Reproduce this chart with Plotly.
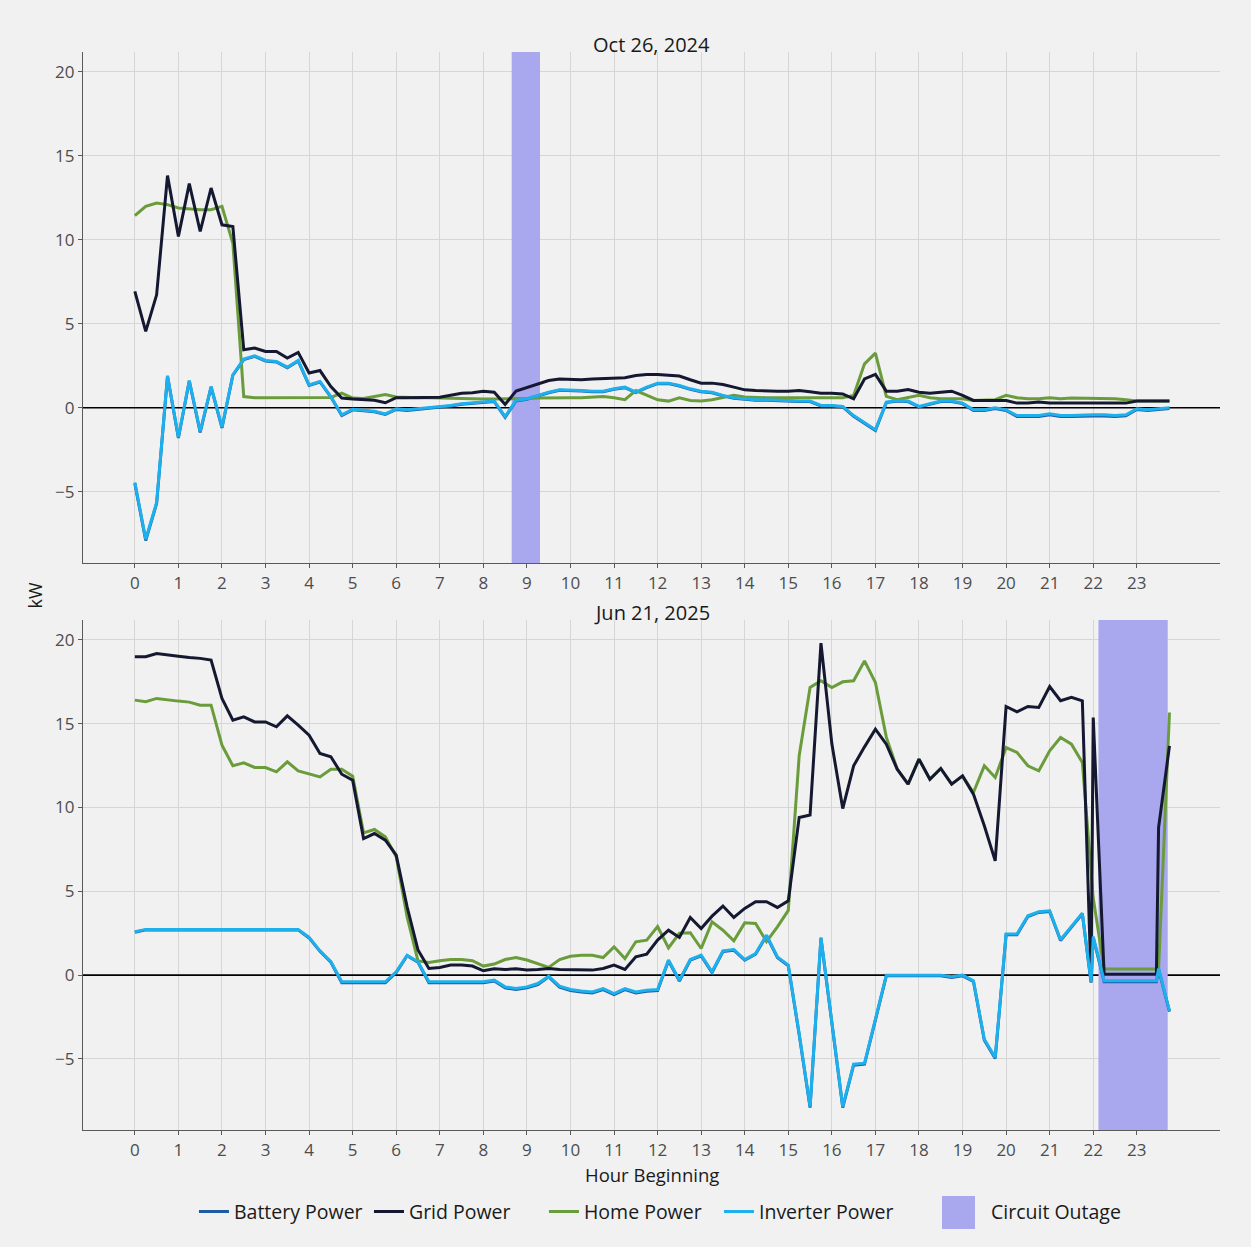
import plotly.graph_objects as go

# ---- sampling times (hour of day, 15-minute readings) ----
oct_hours = [q / 4 for q in range(96)]
# extra readings logged just before / after the evening outage
jun_hours = [q / 4 for q in range(88)] + [21.95] + [q / 4 for q in range(88, 94)] + [23.45, 23.5, 23.75]

hour_ticks = list(range(24))
kw_ticks = [-5, 0, 5, 10, 15, 20]

# ---- Oct 26, 2024 ----
oct_grid = [
    6.93, 4.55, 6.73, 13.83,
    10.21, 13.35, 10.5, 13.09,
    10.9, 10.8, 3.46, 3.56,
    3.36, 3.36, 2.96, 3.3,
    2.07, 2.22, 1.27, 0.58,
    0.52, 0.5, 0.45, 0.3,
    0.6, 0.6, 0.6, 0.6,
    0.63, 0.75, 0.87, 0.9,
    0.98, 0.93, 0.2, 1.0,
    1.2, 1.43, 1.63, 1.71,
    1.67, 1.67, 1.71, 1.75,
    1.79, 1.79, 1.93, 1.99,
    1.99, 1.93, 1.89, 1.67,
    1.47, 1.47, 1.39, 1.23,
    1.07, 1.03, 0.99, 0.99,
    0.99, 1.03, 0.95, 0.87,
    0.87, 0.83, 0.54, 1.72,
    1.99, 0.99, 0.99, 1.09,
    0.93, 0.87, 0.93, 0.99,
    0.74, 0.44, 0.44, 0.44,
    0.44, 0.28, 0.28, 0.34,
    0.28, 0.28, 0.28, 0.3,
    0.28, 0.28, 0.28, 0.28,
    0.4, 0.4, 0.4, 0.4,
]
oct_home = [
    11.44, 12.0, 12.2, 12.1,
    11.9, 11.85, 11.8, 11.8,
    12.0, 9.8, 0.67, 0.6,
    0.6, 0.58, 0.58, 0.58,
    0.6, 0.6, 0.62, 0.87,
    0.58, 0.55, 0.65, 0.79,
    0.64, 0.6, 0.6, 0.6,
    0.58, 0.54, 0.54, 0.52,
    0.52, 0.52, 0.52, 0.52,
    0.56, 0.58, 0.6, 0.6,
    0.6, 0.6, 0.64, 0.68,
    0.6, 0.48, 1.03, 0.74,
    0.48, 0.4, 0.6, 0.44,
    0.4, 0.48, 0.6, 0.74,
    0.64, 0.6, 0.6, 0.6,
    0.6, 0.64, 0.62, 0.6,
    0.6, 0.6, 0.74, 2.62,
    3.26, 0.68, 0.48, 0.6,
    0.74, 0.6, 0.54, 0.54,
    0.54, 0.44, 0.44, 0.48,
    0.74, 0.6, 0.54, 0.54,
    0.6, 0.54, 0.58, 0.58,
    0.58, 0.58, 0.54, 0.48,
    0.4, 0.4, 0.4, 0.4,
]
oct_inverter = [
    -4.45, -7.83, -5.64, 1.91,
    -1.75, 1.63, -1.41, 1.27,
    -1.15, 1.97, 2.9, 3.1,
    2.82, 2.76, 2.42, 2.82,
    1.37, 1.57, 0.67, -0.42,
    -0.08, -0.15, -0.2, -0.36,
    -0.06, -0.12, -0.06, 0.0,
    0.08, 0.14, 0.24, 0.28,
    0.34, 0.4, -0.52, 0.44,
    0.54, 0.74, 0.93, 1.07,
    1.07, 1.03, 0.99, 0.99,
    1.13, 1.23, 0.93, 1.23,
    1.47, 1.47, 1.33, 1.13,
    0.99, 0.93, 0.74, 0.6,
    0.54, 0.48, 0.48, 0.44,
    0.44, 0.4, 0.4, 0.14,
    0.14, 0.08, -0.46, -0.91,
    -1.31, 0.34, 0.44, 0.4,
    0.08, 0.24, 0.4, 0.4,
    0.28, -0.12, -0.12, 0.0,
    -0.12, -0.46, -0.46, -0.46,
    -0.36, -0.46, -0.46, -0.42,
    -0.42, -0.42, -0.46, -0.42,
    -0.06, -0.12, -0.06, 0.0,
]
oct_battery = [
    -4.5, -7.9, -5.7, 1.88,
    -1.8, 1.6, -1.46, 1.24,
    -1.2, 1.94, 2.87, 3.07,
    2.79, 2.73, 2.39, 2.79,
    1.34, 1.54, 0.64, -0.46,
    -0.12, -0.19, -0.24, -0.4,
    -0.1, -0.16, -0.1, -0.04,
    0.05, 0.11, 0.21, 0.25,
    0.31, 0.37, -0.56, 0.41,
    0.51, 0.71, 0.9, 1.04,
    1.04, 1.0, 0.96, 0.96,
    1.1, 1.2, 0.9, 1.2,
    1.44, 1.44, 1.3, 1.1,
    0.96, 0.9, 0.71, 0.57,
    0.51, 0.45, 0.45, 0.41,
    0.41, 0.37, 0.37, 0.11,
    0.11, 0.05, -0.5, -0.95,
    -1.35, 0.31, 0.41, 0.37,
    0.05, 0.21, 0.37, 0.37,
    0.25, -0.16, -0.16, -0.04,
    -0.16, -0.52, -0.52, -0.52,
    -0.42, -0.52, -0.52, -0.48,
    -0.48, -0.48, -0.52, -0.48,
    -0.1, -0.16, -0.1, -0.04,
]

# ---- Jun 21, 2025 ----
jun_grid = [
    18.99, 19.0, 19.19, 19.09,
    19.03, 18.95, 18.9, 18.8,
    16.51, 15.21, 15.41, 15.11,
    15.11, 14.82, 15.47, 14.92,
    14.32, 13.23, 13.03, 11.99,
    11.63, 8.15, 8.45, 8.05,
    7.16, 4.08, 1.5, 0.4,
    0.46, 0.6, 0.6, 0.54,
    0.26, 0.38, 0.34, 0.38,
    0.3, 0.34, 0.4, 0.34,
    0.34, 0.3, 0.3, 0.4,
    0.6, 0.34, 1.09, 1.25,
    2.09, 2.68, 2.25, 3.44,
    2.78, 3.52, 4.12, 3.44,
    3.98, 4.38, 4.38, 4.04,
    4.43, 9.41, 9.55, 19.81,
    13.8, 9.94, 12.49, 13.62,
    14.68, 13.78, 12.29, 11.4,
    12.89, 11.69, 12.33, 11.4,
    11.89, 10.8, 8.91, 6.82,
    16.03, 15.71, 16.03, 15.97,
    17.22, 16.37, 16.57, 16.37, -0.3,
    15.37, 0.05, 0.05, 0.05,
    0.05, 0.05, 0.05, 8.8, 13.68,
]
jun_home = [
    16.41, 16.31, 16.51, 16.41,
    16.35, 16.29, 16.11, 16.11,
    13.72, 12.49, 12.67, 12.39,
    12.39, 12.13, 12.73, 12.19,
    11.99, 11.83, 12.29, 12.29,
    11.87, 8.49, 8.69, 8.25,
    7.06, 3.48, 0.85, 0.75,
    0.86, 0.93, 0.93, 0.86,
    0.54, 0.66, 0.93, 1.05,
    0.9, 0.66, 0.46, 0.93,
    1.13, 1.19, 1.19, 1.05,
    1.69, 0.99, 1.99, 2.09,
    2.9, 1.62, 2.5, 2.53,
    1.59, 3.18, 2.68, 2.05,
    3.12, 3.08, 2.0, 2.88,
    3.86, 13.09, 17.16, 17.56,
    17.16, 17.5, 17.56, 18.75,
    17.46, 14.2, 12.29, 11.4,
    12.89, 11.69, 12.33, 11.4,
    11.89, 10.9, 12.49, 11.79,
    13.58, 13.29, 12.49, 12.19,
    13.38, 14.18, 13.78, 12.69, 6.3,
    4.6, 0.36, 0.36, 0.36,
    0.36, 0.36, 0.36, 0.36, 15.67,
]
jun_inverter = [
    2.59, 2.73, 2.73, 2.73,
    2.73, 2.73, 2.73, 2.73,
    2.73, 2.73, 2.73, 2.73,
    2.73, 2.73, 2.73, 2.73,
    2.25, 1.45, 0.8, -0.4,
    -0.4, -0.4, -0.4, -0.4,
    0.2, 1.19, 0.8, -0.4,
    -0.4, -0.4, -0.4, -0.4,
    -0.4, -0.3, -0.7, -0.8,
    -0.7, -0.5, -0.06, -0.66,
    -0.86, -0.94, -1.0, -0.8,
    -1.1, -0.8, -1.0, -0.9,
    -0.86, 0.9, -0.3, 0.93,
    1.19, 0.2, 1.45, 1.53,
    0.93, 1.29, 2.39, 1.09,
    0.6, -3.5, -7.84, 2.25,
    -2.82, -7.84, -5.31, -5.25,
    -2.63, 0.0, 0.0, 0.0,
    0.0, 0.0, 0.0, -0.1,
    0.0, -0.34, -3.82, -4.91,
    2.45, 2.45, 3.54, 3.78,
    3.84, 2.11, 2.94, 3.7, -0.4,
    2.3, -0.34, -0.34, -0.34,
    -0.34, -0.34, -0.34, 0.4, -2.13,
]
jun_battery = [
    2.56, 2.7, 2.7, 2.7,
    2.7, 2.7, 2.7, 2.7,
    2.7, 2.7, 2.7, 2.7,
    2.7, 2.7, 2.7, 2.7,
    2.22, 1.42, 0.77, -0.45,
    -0.45, -0.45, -0.45, -0.45,
    0.16, 1.16, 0.77, -0.45,
    -0.45, -0.45, -0.45, -0.45,
    -0.45, -0.35, -0.76, -0.86,
    -0.76, -0.56, -0.1, -0.72,
    -0.92, -1.0, -1.06, -0.86,
    -1.16, -0.86, -1.06, -0.96,
    -0.92, 0.86, -0.35, 0.89,
    1.15, 0.16, 1.41, 1.49,
    0.89, 1.25, 2.35, 1.05,
    0.56, -3.55, -7.9, 2.2,
    -2.88, -7.9, -5.37, -5.31,
    -2.68, -0.04, -0.04, -0.04,
    -0.04, -0.04, -0.04, -0.14,
    -0.04, -0.38, -3.88, -4.97,
    2.41, 2.41, 3.5, 3.74,
    3.8, 2.07, 2.9, 3.66, -0.45,
    2.25, -0.4, -0.4, -0.4,
    -0.4, -0.4, -0.4, 0.36, -2.18,
]

# circuit outage windows (start hour, end hour)
oct_outage = [8.65, 9.3]
jun_outage = [22.12, 23.71]

# ---- styling ----
BG = "#F1F1F1"
GRID = "#D6D6D6"
AXIS = "#5A5A5A"
OUTAGE = "#A9A7EE"
FONT = "Open Sans"
LINE_W = 3
series_style = {
    "Battery Power": ("#1F5AA6", 1),
    "Home Power": ("#6A9C3C", 3),
    "Grid Power": ("#141830", 2),
    "Inverter Power": ("#1DB0EC", 4),
}

xrange = [-1.19, 24.91]
yrange = [-9.24, 21.19]

panels = [
    ("x", "y", oct_hours, oct_outage,
     {"Battery Power": oct_battery, "Home Power": oct_home,
      "Grid Power": oct_grid, "Inverter Power": oct_inverter}),
    ("x2", "y2", jun_hours, jun_outage,
     {"Battery Power": jun_battery, "Home Power": jun_home,
      "Grid Power": jun_grid, "Inverter Power": jun_inverter}),
]

fig = go.Figure()
for i, (xa, ya, hours, outage, series) in enumerate(panels):
    # zero reference line across the panel
    fig.add_trace(go.Scatter(
        x=xrange, y=[0, 0], mode="lines", line=dict(color="#000000", width=1.6),
        xaxis=xa, yaxis=ya, showlegend=False, hoverinfo="skip",
    ))
    # circuit outage band spanning the full panel height
    fig.add_trace(go.Scatter(
        x=[outage[0], outage[1], outage[1], outage[0], outage[0]],
        y=[yrange[0], yrange[0], yrange[1], yrange[1], yrange[0]],
        mode="lines", fill="toself", fillcolor=OUTAGE,
        line=dict(color=OUTAGE, width=0),
        xaxis=xa, yaxis=ya, showlegend=False, hoverinfo="skip",
    ))
    for name, values in series.items():
        color, rank = series_style[name]
        fig.add_trace(go.Scatter(
            x=hours, y=values, mode="lines", name=name,
            line=dict(color=color, width=LINE_W),
            xaxis=xa, yaxis=ya, legendgroup=name, legendrank=rank,
            showlegend=(i == 0), hoverinfo="skip",
        ))

axis_common = dict(
    showline=True, linecolor=AXIS, linewidth=1.3, mirror=False,
    ticks="outside", ticklen=4, tickcolor=AXIS, tickwidth=1,
    gridcolor=GRID, gridwidth=1.4, zeroline=False,
    tickfont=dict(family=FONT, size=17, color="#4D4D4D"),
)

fig.update_layout(
    width=1251, height=1247, autosize=False,
    margin=dict(l=83, r=31, t=52, b=117),
    paper_bgcolor=BG, plot_bgcolor=BG,
    font=dict(family=FONT, color="#1A1A1A"),
    xaxis=dict(axis_common, range=xrange, tickvals=hour_ticks, anchor="y"),
    yaxis=dict(axis_common, range=yrange, tickvals=kw_ticks, domain=[0.526, 1.0], anchor="x"),
    xaxis2=dict(axis_common, range=xrange, tickvals=hour_ticks, anchor="y2"),
    yaxis2=dict(axis_common, range=yrange, tickvals=kw_ticks, domain=[0.0, 0.4731], anchor="x2"),
    legend=dict(
        orientation="h", x=0.0976, xanchor="left", y=-0.076, yanchor="middle",
        bgcolor="rgba(0,0,0,0)", font=dict(family=FONT, size=19.5, color="#1A1A1A"),
        traceorder="normal", entrywidth=130, entrywidthmode="pixels",
    ),
    showlegend=True,
)

# outage key next to the legend
fig.add_shape(type="rect", xref="paper", yref="paper", x0=0.7555, x1=0.7845,
              y0=-0.0918, y1=-0.0612, fillcolor=OUTAGE, line=dict(width=0))

annotations = [
    dict(text="Oct 26, 2024", x=0.5, y=1.0074, font=dict(size=20)),
    dict(text="Jun 21, 2025", x=0.5, y=0.4805, font=dict(size=20)),
    dict(text="Hour Beginning", x=0.5, y=-0.0417, font=dict(size=18.5)),
    dict(text="kW", x=-0.042, y=0.496, textangle=-90, font=dict(size=18)),
    dict(text="Circuit Outage", x=0.7968, y=-0.076, xanchor="left", font=dict(size=19.5)),
]
for a in annotations:
    a.setdefault("xanchor", "center")
    a["font"] = dict(family=FONT, color="#1A1A1A", **a["font"])
    fig.add_annotation(xref="paper", yref="paper", yanchor="middle", showarrow=False, **a)

fig.write_html("out.html")
